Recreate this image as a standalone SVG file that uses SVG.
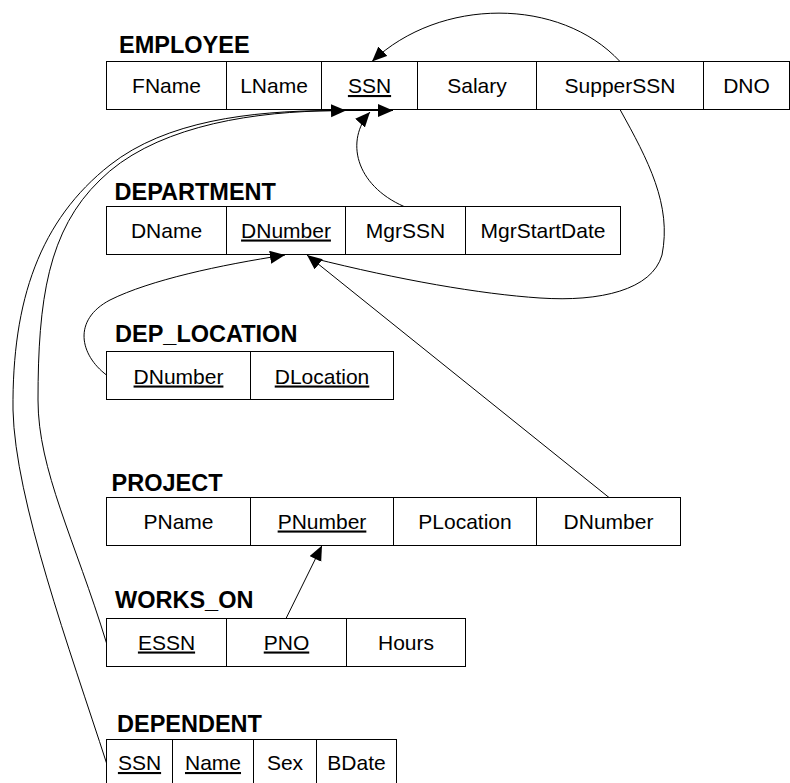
<svg xmlns="http://www.w3.org/2000/svg" width="790" height="783" viewBox="0 0 790 783">
<style>
text{font-family:"Liberation Sans",Arial,Helvetica,sans-serif;fill:#000}
.t{font-size:23.5px;font-weight:bold}
.c{font-size:21px;text-anchor:middle}
.u{text-decoration:underline}
.b{fill:#fff;stroke:#000;stroke-width:1}
.d{stroke:#000;stroke-width:1}
.e{fill:none;stroke:#000;stroke-width:1}
</style>
<defs>
<marker id="arr" markerUnits="userSpaceOnUse" markerWidth="16" markerHeight="14" refX="15" refY="6.5" orient="auto">
<path d="M0,0 L15,6.5 L0,13 z" fill="#000"/>
</marker>
</defs>
<rect width="790" height="783" fill="#fff"/>

<g id="employee">
<text class="t" x="119" y="53">EMPLOYEE</text>
<rect class="b" x="106.5" y="61.5" width="683" height="48"/>
<line class="d" x1="226.5" y1="61.5" x2="226.5" y2="109.5"/>
<line class="d" x1="321.5" y1="61.5" x2="321.5" y2="109.5"/>
<line class="d" x1="417.5" y1="61.5" x2="417.5" y2="109.5"/>
<line class="d" x1="536.5" y1="61.5" x2="536.5" y2="109.5"/>
<line class="d" x1="703.5" y1="61.5" x2="703.5" y2="109.5"/>
<text class="c" x="166.5" y="93">FName</text>
<text class="c" x="274" y="93">LName</text>
<text class="c u" x="369.5" y="93">SSN</text>
<text class="c" x="477" y="93">Salary</text>
<text class="c" x="620" y="93">SupperSSN</text>
<text class="c" x="746.5" y="93">DNO</text>
</g>

<g id="department">
<text class="t" x="114.5" y="199.5">DEPARTMENT</text>
<rect class="b" x="106.5" y="206.5" width="514" height="48"/>
<line class="d" x1="226.5" y1="206.5" x2="226.5" y2="254.5"/>
<line class="d" x1="345.5" y1="206.5" x2="345.5" y2="254.5"/>
<line class="d" x1="465.5" y1="206.5" x2="465.5" y2="254.5"/>
<text class="c" x="166.5" y="237.5">DName</text>
<text class="c u" x="286" y="237.5">DNumber</text>
<text class="c" x="405.5" y="237.5">MgrSSN</text>
<text class="c" x="543" y="237.5">MgrStartDate</text>
</g>

<g id="dep_location">
<text class="t" x="115" y="341.5">DEP_LOCATION</text>
<rect class="b" x="106.5" y="351.5" width="287" height="48"/>
<line class="d" x1="250.5" y1="351.5" x2="250.5" y2="399.5"/>
<text class="c u" x="178.5" y="383.5">DNumber</text>
<text class="c u" x="322" y="383.5">DLocation</text>
</g>

<g id="project">
<text class="t" x="111.5" y="490.5">PROJECT</text>
<rect class="b" x="106.5" y="497.5" width="574" height="48"/>
<line class="d" x1="250.5" y1="497.5" x2="250.5" y2="545.5"/>
<line class="d" x1="393.5" y1="497.5" x2="393.5" y2="545.5"/>
<line class="d" x1="536.5" y1="497.5" x2="536.5" y2="545.5"/>
<text class="c" x="178.5" y="528.5">PName</text>
<text class="c u" x="322" y="528.5">PNumber</text>
<text class="c" x="465" y="528.5">PLocation</text>
<text class="c" x="608.5" y="528.5">DNumber</text>
</g>

<g id="works_on">
<text class="t" x="115" y="607.5">WORKS_ON</text>
<rect class="b" x="106.5" y="618.5" width="359" height="48"/>
<line class="d" x1="226.5" y1="618.5" x2="226.5" y2="666.5"/>
<line class="d" x1="346.5" y1="618.5" x2="346.5" y2="666.5"/>
<text class="c u" x="166.5" y="649.5">ESSN</text>
<text class="c u" x="286.5" y="649.5">PNO</text>
<text class="c" x="406" y="649.5">Hours</text>
</g>

<g id="dependent">
<text class="t" x="117" y="731.5">DEPENDENT</text>
<rect class="b" x="106.5" y="739.5" width="290" height="48"/>
<line class="d" x1="172.5" y1="739.5" x2="172.5" y2="787.5"/>
<line class="d" x1="253.5" y1="739.5" x2="253.5" y2="787.5"/>
<line class="d" x1="316.5" y1="739.5" x2="316.5" y2="787.5"/>
<text class="c u" x="139.5" y="770">SSN</text>
<text class="c u" x="213" y="770">Name</text>
<text class="c" x="285" y="770">Sex</text>
<text class="c" x="356.5" y="770">BDate</text>
</g>

<g id="connectors">
<path class="e" d="M620,61.5 C560,-3 440,-3 372,61.5" marker-end="url(#arr)"/>
<path class="e" d="M620,109.5 C648,160 672,205 662,255 C652,290 600,302 540,298 C480,294 400,280 312,258"/>
<path class="e" d="M609,497.5 L307,255" marker-end="url(#arr)"/>
<path class="e" d="M404,206.5 C355,185 345,140 370,112" marker-end="url(#arr)"/>
<path class="e" d="M106.5,375 C80,355 72,320 110,300 C150,280 220,265 285,255" marker-end="url(#arr)"/>
<path class="e" d="M286,618.5 L322,545.5" marker-end="url(#arr)"/>
<path class="e" d="M106.5,643 C75,540 38,470 38,400 C38,300 48,230 100,180 C150,130 240,113 320,111 L346,110.5" marker-end="url(#arr)"/>
<path class="e" d="M106.5,763 C70,650 15,500 13,410 C12,300 40,220 110,165 C166,121 250,111 330,110.5 L393,110.5" marker-end="url(#arr)"/>
</g>
</svg>
